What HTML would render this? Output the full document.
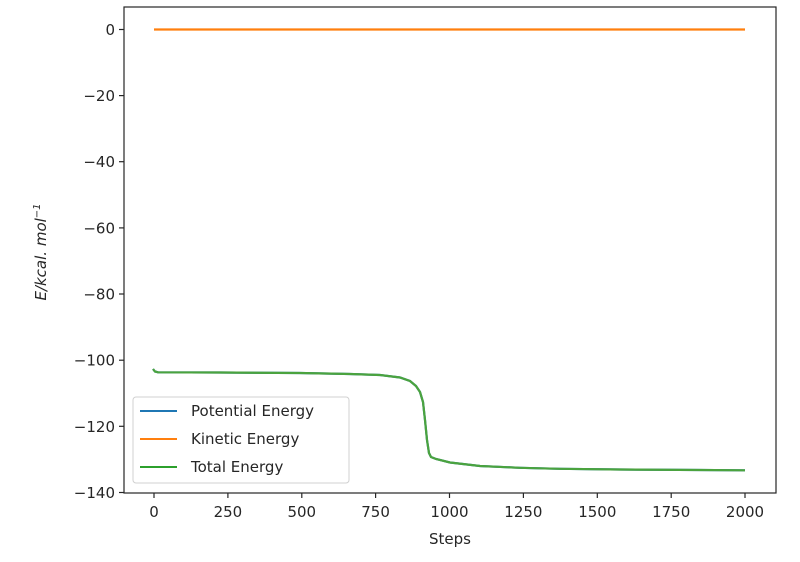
<!DOCTYPE html>
<html><head><style>
body{margin:0;background:#fff;}
svg text{font-family:"DejaVu Sans","Liberation Sans",sans-serif;fill:#262626;}
</style></head><body>
<svg width="800" height="557" viewBox="0 0 800 557" xmlns="http://www.w3.org/2000/svg">
<rect width="800" height="557" fill="#fff"/>
<line x1="154" y1="29.5" x2="745" y2="29.5" stroke="#ff7f0e" stroke-width="2.2"/>
<path d="M153,369 L155,371.5 L158,372.3 L220,372.5 L300,373 L350,374 L380,375 L400,377.5 L410,381 L416,386 L420,392 L423,402 L425,420 L427,440 L429,453 L431,457 L436,459 L450,462.5 L480,466 L520,467.8 L560,468.8 L620,469.5 L700,470 L745,470.3" fill="none" stroke="#1f77b4" stroke-width="2.2"/>
<path d="M153,369 L155,371.5 L158,372.3 L220,372.5 L300,373 L350,374 L380,375 L400,377.5 L410,381 L416,386 L420,392 L423,402 L425,420 L427,440 L429,453 L431,457 L436,459 L450,462.5 L480,466 L520,467.8 L560,468.8 L620,469.5 L700,470 L745,470.3" fill="none" stroke="#4ba33e" stroke-width="2.2"/>
<rect x="124" y="7" width="652" height="486" fill="none" stroke="#262626" stroke-width="1.2"/>
<g stroke="#262626" stroke-width="1.2">
<line x1="119" y1="29.5" x2="124" y2="29.5"/>
<line x1="119" y1="95.6" x2="124" y2="95.6"/>
<line x1="119" y1="161.7" x2="124" y2="161.7"/>
<line x1="119" y1="227.9" x2="124" y2="227.9"/>
<line x1="119" y1="294" x2="124" y2="294"/>
<line x1="119" y1="360.2" x2="124" y2="360.2"/>
<line x1="119" y1="426.3" x2="124" y2="426.3"/>
<line x1="119" y1="492.5" x2="124" y2="492.5"/>
<line x1="154" y1="493" x2="154" y2="498"/>
<line x1="227.9" y1="493" x2="227.9" y2="498"/>
<line x1="301.8" y1="493" x2="301.8" y2="498"/>
<line x1="375.6" y1="493" x2="375.6" y2="498"/>
<line x1="449.5" y1="493" x2="449.5" y2="498"/>
<line x1="523.4" y1="493" x2="523.4" y2="498"/>
<line x1="597.3" y1="493" x2="597.3" y2="498"/>
<line x1="671.2" y1="493" x2="671.2" y2="498"/>
<line x1="745" y1="493" x2="745" y2="498"/>
</g>
<g font-size="15" text-anchor="end">
<text x="115" y="35">0</text>
<text x="115" y="101">−20</text>
<text x="115" y="167">−40</text>
<text x="115" y="233.4">−60</text>
<text x="115" y="299.5">−80</text>
<text x="115" y="365.7">−100</text>
<text x="115" y="431.8">−120</text>
<text x="115" y="498">−140</text>
</g>
<g font-size="15" text-anchor="middle">
<text x="154" y="517">0</text>
<text x="227.9" y="517">250</text>
<text x="301.8" y="517">500</text>
<text x="375.6" y="517">750</text>
<text x="449.5" y="517">1000</text>
<text x="523.4" y="517">1250</text>
<text x="597.3" y="517">1500</text>
<text x="671.2" y="517">1750</text>
<text x="745" y="517">2000</text>
<text x="450" y="544">Steps</text>
</g>
<text transform="translate(46,252) rotate(-90)" font-size="15" font-style="italic" text-anchor="middle">E/kcal. mol<tspan font-size="10" dy="-6">−1</tspan></text>
<rect x="133" y="397" width="216" height="86" rx="3" fill="#fff" fill-opacity="0.85" stroke="#d0d0d0"/>
<line x1="140" y1="411" x2="177" y2="411" stroke="#1f77b4" stroke-width="2"/>
<line x1="140" y1="439" x2="177" y2="439" stroke="#ff7f0e" stroke-width="2"/>
<line x1="140" y1="467" x2="177" y2="467" stroke="#2ca02c" stroke-width="2"/>
<g font-size="15">
<text x="191" y="416">Potential Energy</text>
<text x="191" y="444">Kinetic Energy</text>
<text x="191" y="472">Total Energy</text>
</g>
</svg>
</body></html>
